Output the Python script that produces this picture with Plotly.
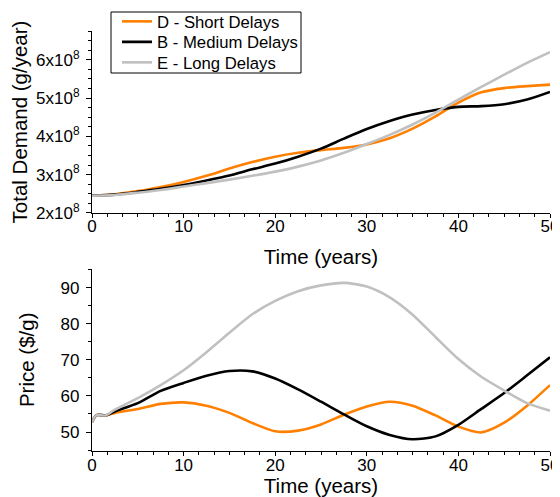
import plotly.graph_objects as go

# ---- data ----
time_top = [0, 2.5, 5, 7.5, 10, 12.5, 15, 17.5, 20, 22.5, 25, 27.5, 30, 32.5, 35, 37.5, 40, 42.5, 45, 47.5, 50]
demand_D_1e8 = [2.45, 2.49, 2.57, 2.68, 2.81, 2.97, 3.16, 3.33, 3.47, 3.57, 3.64, 3.70, 3.79, 3.95, 4.20, 4.52, 4.88, 5.15, 5.26, 5.31, 5.35]
demand_B_1e8 = [2.45, 2.48, 2.55, 2.63, 2.73, 2.85, 2.98, 3.14, 3.29, 3.47, 3.68, 3.94, 4.19, 4.40, 4.57, 4.69, 4.77, 4.79, 4.84, 4.96, 5.16]
demand_E_1e8 = [2.45, 2.47, 2.53, 2.60, 2.69, 2.78, 2.87, 2.97, 3.08, 3.21, 3.37, 3.57, 3.80, 4.04, 4.31, 4.62, 4.96, 5.29, 5.61, 5.92, 6.20]

time_bot = [0, 0.5, 1.5, 2.5, 5, 7.5, 10, 12.5, 15, 17.5, 20, 22.5, 25, 27.5, 30, 32.5, 35, 37.5, 40, 42.5, 45, 47.5, 50]
price_D = [52.8, 54.7, 54.6, 55.3, 56.4, 57.8, 58.2, 57.3, 55.3, 52.5, 50.2, 50.4, 52.1, 54.8, 57.1, 58.4, 57.3, 54.6, 51.5, 49.9, 52.6, 57.3, 63.0]
price_B = [52.8, 54.7, 54.6, 55.7, 58.0, 61.4, 63.6, 65.6, 66.9, 66.8, 64.8, 61.8, 58.4, 54.9, 51.6, 49.2, 48.0, 48.8, 52.0, 56.4, 60.8, 65.7, 70.7]
price_E = [52.8, 54.7, 54.6, 56.2, 59.4, 63.0, 67.1, 72.1, 77.5, 82.6, 86.3, 89.0, 90.6, 91.3, 90.3, 87.3, 82.5, 76.3, 70.2, 65.3, 61.5, 58.0, 55.9]

series_names = ["D - Short Delays", "B - Medium Delays", "E - Long Delays"]
series_colors = ["#FF8000", "#000000", "#C0C0C0"]

demand_tick_vals = [2e8, 3e8, 4e8, 5e8, 6e8]
demand_tick_text = ["2x10<sup>8</sup>", "3x10<sup>8</sup>", "4x10<sup>8</sup>", "5x10<sup>8</sup>", "6x10<sup>8</sup>"]

# ---- figure ----
fig = go.Figure()
legend_ids = ["legend", "legend2", "legend3"]
demand_sets = [demand_D_1e8, demand_B_1e8, demand_E_1e8]
price_sets = [price_D, price_B, price_E]
for name, color, dem, lg in zip(series_names, series_colors, demand_sets, legend_ids):
    fig.add_trace(go.Scatter(x=time_top, y=[v * 1e8 for v in dem], mode="lines", name=name,
                             line=dict(color=color, width=2.6, shape="spline", smoothing=0.7),
                             xaxis="x", yaxis="y", showlegend=True, legend=lg))
for name, color, pr in zip(series_names, series_colors, price_sets):
    fig.add_trace(go.Scatter(x=time_bot, y=pr, mode="lines", name=name,
                             line=dict(color=color, width=2.6, shape="spline", smoothing=0.7),
                             xaxis="x2", yaxis="y2", showlegend=False))

font_family = "Liberation Sans, Arial, sans-serif"
axis_common = dict(showline=True, linecolor="black", linewidth=1.2, ticks="outside",
                   tickwidth=1, tickcolor="black", showgrid=False, zeroline=False,
                   automargin=False,
                   tickfont=dict(size=17, color="black", family=font_family))

# the page body adds an 8px margin around the figure
PAGE_OFF = 8
FIG_W, FIG_H = 560 - PAGE_OFF, 497 - PAGE_OFF
PLOT_L, PLOT_W, PLOT_T, PLOT_H = 92 - PAGE_OFF, 458, 31 - PAGE_OFF, 420


def px_x(px):
    return (px - PAGE_OFF - PLOT_L) / PLOT_W


def px_y(py):
    return 1 - (py - PAGE_OFF - PLOT_T) / PLOT_H


legend_rows_px = [21.5, 42, 62.5]
legend_defs = {}
for lg, row in zip(legend_ids, legend_rows_px):
    legend_defs[lg] = dict(x=px_x(117), y=px_y(row), xanchor="left", yanchor="middle",
                           bgcolor="rgba(0,0,0,0)", borderwidth=0,
                           font=dict(size=16.7, color="black", family=font_family))

fig.update_layout(
    width=FIG_W, height=FIG_H,
    margin=dict(l=PLOT_L, r=FIG_W - PLOT_L - PLOT_W, t=PLOT_T, b=FIG_H - PLOT_T - PLOT_H,
                pad=0, autoexpand=False),
    paper_bgcolor="white", plot_bgcolor="white",
    font=dict(family=font_family, color="black"),
    xaxis=dict(domain=[0, 1], anchor="y", range=[0, 50], dtick=10, ticklen=4,
               minor=dict(dtick=10 / 6, ticks="outside", ticklen=3, tickcolor="black"),
               title=dict(text="Time (years)", font=dict(size=20.5), standoff=14),
               ticklabelstandoff=-6,
               **axis_common),
    yaxis=dict(domain=[0.5667, 1], anchor="x", range=[2e8, 6.75e8], ticklen=5,
               tickmode="array", tickvals=demand_tick_vals, ticktext=demand_tick_text,
               minor=dict(dtick=0.25e8, tick0=2e8, ticks="outside", ticklen=3, tickcolor="black"),
               title=dict(text="Total Demand (g/year)", font=dict(size=20.5), standoff=8),
               ticklabelstandoff=3,
               **axis_common),
    xaxis2=dict(domain=[0, 1], anchor="y2", range=[0, 50], dtick=10, ticklen=4,
                minor=dict(dtick=10 / 6, ticks="outside", ticklen=3, tickcolor="black"),
                title=dict(text="Time (years)", font=dict(size=20.5), standoff=9),
                ticklabelstandoff=-6,
                **axis_common),
    yaxis2=dict(domain=[0, 0.4343], anchor="x2", range=[44.75, 95.25], dtick=10, ticklen=5,
                minor=dict(dtick=5, ticks="outside", ticklen=3, tickcolor="black"),
                title=dict(text="Price ($/g)", font=dict(size=20.5), standoff=20),
                ticklabelstandoff=3,
                **axis_common),
    shapes=[dict(type="rect", xref="paper", yref="paper",
                 x0=px_x(111), x1=px_x(301), y0=px_y(73), y1=px_y(12),
                 line=dict(color="black", width=1), fillcolor="white", layer="below")],
    **legend_defs,
)

fig.write_html("out.html")
